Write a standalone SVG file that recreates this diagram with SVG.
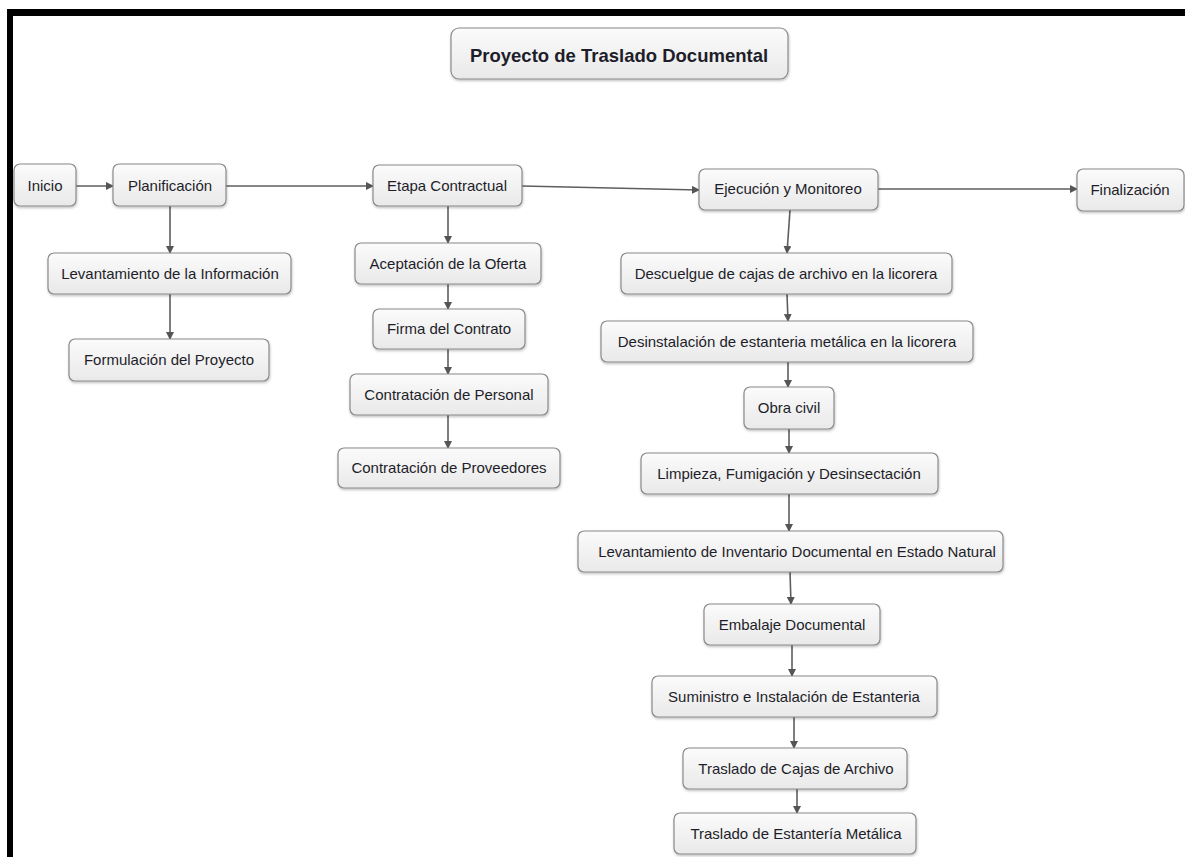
<svg xmlns="http://www.w3.org/2000/svg" width="1185" height="857" viewBox="0 0 1185 857">
<defs>
<linearGradient id="g" x1="0" y1="0" x2="0" y2="1">
<stop offset="0" stop-color="#fbfbfb"/>
<stop offset="1" stop-color="#e9e9e9"/>
</linearGradient>
<filter id="sh" x="-10%" y="-20%" width="120%" height="150%">
<feDropShadow dx="0.5" dy="1.5" stdDeviation="1" flood-color="#000" flood-opacity="0.25"/>
</filter>
<marker id="ar" markerWidth="8" markerHeight="8" refX="7" refY="4" orient="auto" markerUnits="userSpaceOnUse">
<path d="M0,0 L8,4 L0,8 Z" fill="#555"/>
</marker>
</defs>
<style>
.n rect{fill:url(#g);stroke:#8a8a8a;stroke-width:1.2;filter:url(#sh)}
.n text{font-family:"Liberation Sans",Arial,sans-serif;font-size:15px;fill:#1e1e2a;text-anchor:middle}
.t text{font-size:18.5px;font-weight:bold}
.c line{stroke:#5e5e5e;stroke-width:1.6;marker-end:url(#ar)}
</style>
<rect x="0" y="0" width="1185" height="857" fill="#fff"/>
<rect x="7" y="9" width="1178" height="7" fill="#000"/>
<rect x="7" y="9" width="6" height="848" fill="#000"/>

<g class="c" id="connectors">
<line x1="76" y1="186" x2="113" y2="186"/>
<line x1="226" y1="186" x2="373" y2="186"/>
<line x1="522" y1="186" x2="699" y2="190"/>
<line x1="878" y1="189" x2="1077" y2="189"/>
<line x1="170" y1="206" x2="170" y2="253"/>
<line x1="170" y1="294" x2="170" y2="339"/>
<line x1="448" y1="206" x2="448" y2="243"/>
<line x1="448" y1="284" x2="448" y2="309"/>
<line x1="448" y1="349" x2="448" y2="374"/>
<line x1="448" y1="415" x2="448" y2="448"/>
<line x1="790" y1="210" x2="787" y2="253"/>
<line x1="787" y1="294" x2="788" y2="321"/>
<line x1="788" y1="362" x2="788" y2="387"/>
<line x1="789" y1="429" x2="789" y2="453"/>
<line x1="789" y1="494" x2="789" y2="531"/>
<line x1="790" y1="572" x2="791" y2="604"/>
<line x1="792" y1="645" x2="792" y2="676"/>
<line x1="794" y1="717" x2="794" y2="748"/>
<line x1="797" y1="789" x2="797" y2="813"/>
</g>

<g class="n t" id="title"><rect x="451" y="28" width="337" height="51" rx="8"/><text x="619" y="62">Proyecto de Traslado Documental</text></g>
<g class="n" id="inicio"><rect x="14" y="164" width="62" height="42" rx="6"/><text x="45" y="191">Inicio</text></g>
<g class="n" id="planificacion"><rect x="113" y="164" width="113" height="42" rx="6"/><text x="170" y="191">Planificación</text></g>
<g class="n" id="etapa"><rect x="373" y="165" width="149" height="41" rx="6"/><text x="447" y="191">Etapa Contractual</text></g>
<g class="n" id="ejecucion"><rect x="699" y="169" width="179" height="41" rx="6"/><text x="788" y="194">Ejecución y Monitoreo</text></g>
<g class="n" id="finalizacion"><rect x="1077" y="169" width="107" height="42" rx="6"/><text x="1130" y="195">Finalización</text></g>

<g class="n" id="levinfo"><rect x="48" y="253" width="243" height="41" rx="6"/><text x="170" y="279">Levantamiento de la Información</text></g>
<g class="n" id="formulacion"><rect x="69" y="339" width="200" height="42" rx="6"/><text x="169" y="365">Formulación del Proyecto</text></g>

<g class="n" id="aceptacion"><rect x="355" y="243" width="186" height="41" rx="6"/><text x="448" y="269">Aceptación de la Oferta</text></g>
<g class="n" id="firma"><rect x="373" y="309" width="152" height="40" rx="6"/><text x="449" y="334">Firma del Contrato</text></g>
<g class="n" id="personal"><rect x="350" y="374" width="198" height="41" rx="6"/><text x="449" y="400">Contratación de Personal</text></g>
<g class="n" id="proveedores"><rect x="338" y="448" width="222" height="40" rx="6"/><text x="449" y="473">Contratación de Proveedores</text></g>

<g class="n" id="descuelgue"><rect x="621" y="253" width="331" height="41" rx="6"/><text x="786" y="279">Descuelgue de cajas de archivo en la licorera</text></g>
<g class="n" id="desinstalacion"><rect x="601" y="321" width="372" height="41" rx="6"/><text x="787" y="347">Desinstalación de estanteria metálica en la licorera</text></g>
<g class="n" id="obra"><rect x="744" y="387" width="90" height="42" rx="6"/><text x="789" y="413">Obra civil</text></g>
<g class="n" id="limpieza"><rect x="641" y="453" width="297" height="41" rx="6"/><text x="789" y="479">Limpieza, Fumigación y Desinsectación</text></g>
<g class="n" id="inventario"><rect x="578" y="531" width="425" height="41" rx="6"/><text x="797" y="557">Levantamiento de Inventario Documental en Estado Natural</text></g>
<g class="n" id="embalaje"><rect x="704" y="604" width="176" height="41" rx="6"/><text x="792" y="630">Embalaje Documental</text></g>
<g class="n" id="suministro"><rect x="652" y="676" width="285" height="41" rx="6"/><text x="794" y="702">Suministro e Instalación de Estanteria</text></g>
<g class="n" id="cajas"><rect x="683" y="748" width="224" height="41" rx="6"/><text x="796" y="774">Traslado de Cajas de Archivo</text></g>
<g class="n" id="estanteria"><rect x="674" y="813" width="242" height="41" rx="6"/><text x="796" y="839">Traslado de Estantería Metálica</text></g>
</svg>
